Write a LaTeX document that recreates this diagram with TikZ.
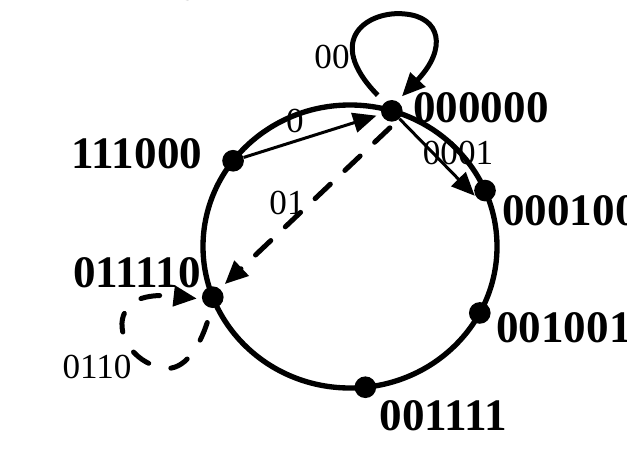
\documentclass[tikz,border=0pt]{standalone}
\usepackage{fontspec}
\setmainfont{Liberation Serif}
\usetikzlibrary{arrows.meta}

\begin{document}
\begin{tikzpicture}[
  x=0.03cm, y=-0.03cm,
  state/.style={circle, fill=black, inner sep=0pt, minimum size=0.65cm},
  slabel/.style={font=\fontsize{38.5}{40}\selectfont\bfseries, inner sep=0pt},
  elabel/.style={font=\fontsize{30}{32}\selectfont, inner sep=0pt},
  ttl/.style={font=\fontsize{48}{50}\selectfont\bfseries, inner sep=0pt},
  trans/.style={-{Triangle[length=0.7cm, width=0.6cm]}, line width=0.09cm},
  dtrans/.style={trans, line width=0.15cm, line cap=round},
]

% Frame (1 unit = 1 px of the figure)
\useasboundingbox (0,0) rectangle (627,449);

% Cut-off title
\node[ttl, anchor=base west] (ty) at (182,-11) {y};
\node[ttl, anchor=base west] (tp) at (359,-11) {p};

% Ring of states
\coordinate (ctr) at (350,246.5);
\draw[line width=0.16cm] (ctr) ellipse [x radius=147, y radius=141.5];

\path (ctr) +(-73.5:147 and 141.5) node[state] (s000000) {};
\path (ctr) +(-142.7:147 and 141.5) node[state] (s111000) {};
\path (ctr) +(159:147 and 141.5) node[state] (s011110) {};
\path (ctr) +(84:147 and 141.5) node[state] (s001111) {};
\path (ctr) +(28:147 and 141.5) node[state] (s001001) {};
\path (ctr) +(-23.3:147 and 141.5) node[state] (s000100) {};

% State labels
\node[slabel, anchor=west] (l000000) at (413,107.5) {000000};
\node[slabel] (l111000) at (137,154) {111000};
\node[slabel] (l011110) at (137,272.5) {011110};
\node[slabel, anchor=west] (l000100) at (502,211) {000100};
\node[slabel, anchor=west] (l001001) at (496,328) {001001};
\node[slabel] (l001111) at (443.5,416) {001111};

% Transitions
\draw[trans, line width=0.15cm, shorten <=0.3cm, shorten >=0.2cm]
  (s000000.130) .. controls (322,38) and (370,10) .. (405,14)
  .. controls (440,17) and (448,48) .. (s000000.60);
\draw[trans, shorten >=0.15cm] (s111000) -- (s000000);
\draw[trans, shorten >=0.08cm] (s000000) -- (s000100.220);
\draw[dtrans, dash pattern=on 0.63cm off 0.6cm, shorten <=0.4cm, shorten >=0.2cm]
  (s000000.south east) -- (s011110.50);
\draw[dtrans, dash pattern=on 0.57cm off 0.69cm, shorten <=0.45cm, shorten >=0.15cm]
  (s011110.265) .. controls (200,345) and (185,372) .. (163,368)
  .. controls (130,362) and (115,330) .. (125,312)
  .. controls (133,293) and (165,295) .. (s011110.190);

% Transition labels
\node[elabel] (e00) at (332,57) {00};
\node[elabel] (e0) at (295,121) {0};
\node[elabel] (e0001) at (458,153) {0001};
\node[elabel] (e01) at (287,203) {01};
\node[elabel] (e0110) at (97,367) {0110};

\end{tikzpicture}
\end{document}
